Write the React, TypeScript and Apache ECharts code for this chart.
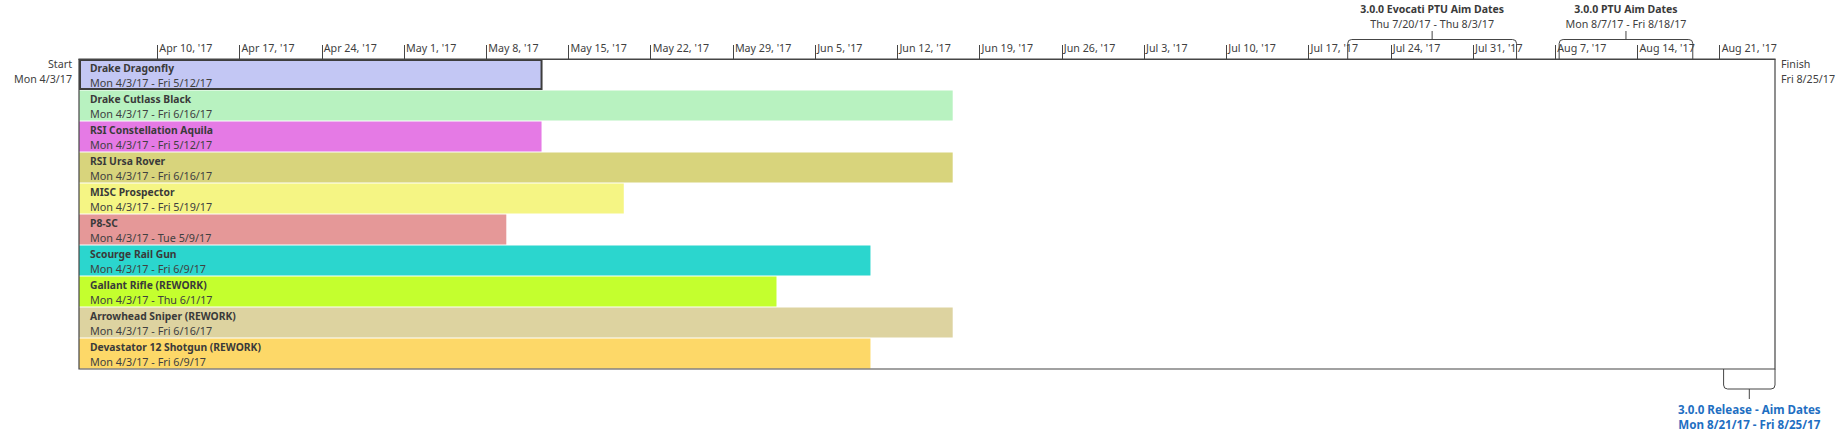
import React, { useEffect, useRef } from "react";
import * as echarts from "echarts";

const tasks = [
  "Drake Dragonfly",
  "Drake Cutlass Black",
  "RSI Constellation Aquila",
  "RSI Ursa Rover",
  "MISC Prospector",
  "P8-SC",
  "Scourge Rail Gun",
  "Gallant Rifle (REWORK)",
  "Arrowhead Sniper (REWORK)",
  "Devastator 12 Shotgun (REWORK)",
];
const taskStarts = [
  "2017-04-03 08:00",
  "2017-04-03 08:00",
  "2017-04-03 08:00",
  "2017-04-03 08:00",
  "2017-04-03 08:00",
  "2017-04-03 08:00",
  "2017-04-03 08:00",
  "2017-04-03 08:00",
  "2017-04-03 08:00",
  "2017-04-03 08:00",
];
const taskFinishes = [
  "2017-05-12 17:00",
  "2017-06-16 17:00",
  "2017-05-12 17:00",
  "2017-06-16 17:00",
  "2017-05-19 17:00",
  "2017-05-09 17:00",
  "2017-06-09 17:00",
  "2017-06-01 17:00",
  "2017-06-16 17:00",
  "2017-06-09 17:00",
];
const taskDateLabels = [
  "Mon 4/3/17 - Fri 5/12/17",
  "Mon 4/3/17 - Fri 6/16/17",
  "Mon 4/3/17 - Fri 5/12/17",
  "Mon 4/3/17 - Fri 6/16/17",
  "Mon 4/3/17 - Fri 5/19/17",
  "Mon 4/3/17 - Tue 5/9/17",
  "Mon 4/3/17 - Fri 6/9/17",
  "Mon 4/3/17 - Thu 6/1/17",
  "Mon 4/3/17 - Fri 6/16/17",
  "Mon 4/3/17 - Fri 6/9/17",
];
const taskColors = [
  "#C3C7F4",
  "#B8F2C0",
  "#E57AE5",
  "#D8D47C",
  "#F5F584",
  "#E59898",
  "#2BD6CE",
  "#C4FF2E",
  "#DDD3A0",
  "#FDD868",
];
const selectedTask = "Drake Dragonfly";

const projectStart = "2017-04-03 08:00";
const projectFinish = "2017-08-25 17:00";
const projectStartLabels = ["Start", "Mon 4/3/17"];
const projectFinishLabels = ["Finish", "Fri 8/25/17"];

const tickDates = [
  "2017-04-10", "2017-04-17", "2017-04-24", "2017-05-01", "2017-05-08",
  "2017-05-15", "2017-05-22", "2017-05-29", "2017-06-05", "2017-06-12",
  "2017-06-19", "2017-06-26", "2017-07-03", "2017-07-10", "2017-07-17",
  "2017-07-24", "2017-07-31", "2017-08-07", "2017-08-14", "2017-08-21",
];
const tickLabels = [
  "Apr 10, '17", "Apr 17, '17", "Apr 24, '17", "May 1, '17", "May 8, '17",
  "May 15, '17", "May 22, '17", "May 29, '17", "Jun 5, '17", "Jun 12, '17",
  "Jun 19, '17", "Jun 26, '17", "Jul 3, '17", "Jul 10, '17", "Jul 17, '17",
  "Jul 24, '17", "Jul 31, '17", "Aug 7, '17", "Aug 14, '17", "Aug 21, '17",
];

const calloutNames = [
  "3.0.0 Evocati PTU Aim Dates",
  "3.0.0 PTU Aim Dates",
  "3.0.0 Release - Aim Dates",
];
const calloutStarts = ["2017-07-20 08:00", "2017-08-07 08:00", "2017-08-21 08:00"];
const calloutFinishes = ["2017-08-03 17:00", "2017-08-18 17:00", "2017-08-25 17:00"];
const calloutDateLabels = [
  "Thu 7/20/17 - Thu 8/3/17",
  "Mon 8/7/17 - Fri 8/18/17",
  "Mon 8/21/17 - Fri 8/25/17",
];
const calloutSides = ["above", "above", "below"];

const toTime = (s: string) => {
  const [d, h] = s.split(" ");
  const [y, m, dd] = d.split("-").map(Number);
  const [hh, mm] = (h || "00:00").split(":").map(Number);
  return new Date(y, m - 1, dd, hh, mm).getTime();
};

const FONT = '"Noto Sans", "Open Sans", sans-serif';
const DARK = "#404040";
const LINE = "#454545";
const BLUE = "#1F6FC2";

export default function App() {
  const ref = useRef<HTMLDivElement>(null);

  useEffect(() => {
    if (!ref.current) return;
    const chart = echarts.init(ref.current, undefined, { renderer: "svg" });
    const tickValues = tickDates.map(toTime);

    const barData = tasks.map((_, i) => [i, toTime(taskStarts[i]), toTime(taskFinishes[i])]);
    const calloutData = calloutNames.map((_, i) => [toTime(calloutStarts[i]), toTime(calloutFinishes[i]), 0]);

    const option: any = {
      animation: false,
      grid: {
        left: 79,
        right: 68,
        top: 59,
        height: 310,
        show: true,
        borderColor: LINE,
        borderWidth: 1.2,
        backgroundColor: "transparent",
        z: 10,
      },
      xAxis: {
        type: "value",
        position: "top",
        min: toTime(projectStart),
        max: toTime(projectFinish),
        z: 12,
        splitLine: { show: false },
        axisLine: { show: true, lineStyle: { color: LINE, width: 1.2 } },
        axisTick: {
          show: true,
          customValues: tickValues,
          length: 14,
          inside: false,
          lineStyle: { color: LINE, width: 1 },
        },
        axisLabel: {
          customValues: tickValues,
          formatter: (v: number) => {
            const k = tickValues.indexOf(v);
            return k >= 0 ? tickLabels[k] : "";
          },
          align: "left",
          verticalAlign: "middle",
          margin: 11,
          padding: [0, 0, 0, 2],
          color: DARK,
          fontFamily: FONT,
          fontSize: 10.7,
          hideOverlap: false,
        },
      },
      yAxis: { type: "category", data: tasks, inverse: true, show: false },
      series: [
        {
          type: "custom",
          name: "tasks",
          clip: false,
          z: 2,
          encode: { y: 0, x: [1, 2] },
          data: barData,
          renderItem: (params: any, api: any) => {
            const i = params.dataIndex;
            const idx = api.value(0);
            const s = api.coord([api.value(1), idx]);
            const e = api.coord([api.value(2), idx]);
            const band = api.size([0, 1])[1];
            const top = s[1] - band / 2;
            const selected = tasks[i] === selectedTask;
            return {
              type: "group",
              children: [
                {
                  type: "rect",
                  shape: selected
                    ? { x: s[0] + 1, y: top + 1, width: e[0] - s[0] - 1, height: band - 2 }
                    : { x: s[0], y: top + 0.5, width: e[0] - s[0], height: band - 1 },
                  style: selected
                    ? { fill: taskColors[i], stroke: "#3d3d3d", lineWidth: 2 }
                    : { fill: taskColors[i] },
                },
                {
                  type: "text",
                  x: s[0] + 11,
                  y: top + 9.3,
                  style: {
                    text: tasks[i],
                    fill: "#3a3a3a",
                    font: `bold 10.3px ${FONT}`,
                    align: "left",
                    verticalAlign: "middle",
                  },
                },
                {
                  type: "text",
                  x: s[0] + 11,
                  y: top + 23.8,
                  style: {
                    text: taskDateLabels[i],
                    fill: DARK,
                    font: `10.8px ${FONT}`,
                    align: "left",
                    verticalAlign: "middle",
                  },
                },
              ],
            };
          },
        },
        {
          type: "custom",
          name: "callouts",
          clip: false,
          z: 15,
          encode: { x: [0, 1], y: 2 },
          data: calloutData,
          renderItem: (params: any, api: any) => {
            const i = params.dataIndex;
            const cs = params.coordSys;
            const x1 = api.coord([api.value(0), 0])[0];
            const x2 = api.coord([api.value(1), 0])[0];
            const mid = (x1 + x2) / 2;
            const r = 4;
            const above = calloutSides[i] === "above";
            let pathData = "";
            const children: any[] = [];
            if (above) {
              const base = cs.y;
              const bar = base - 19.5;
              const tip = bar - 8.5;
              pathData = `M${x1},${base} L${x1},${bar + r} Q${x1},${bar} ${x1 + r},${bar} L${x2 - r},${bar} Q${x2},${bar} ${x2},${bar + r} L${x2},${base} M${mid},${bar} L${mid},${tip}`;
              children.push(
                {
                  type: "text",
                  x: mid,
                  y: base - 50,
                  style: { text: calloutNames[i], fill: "#3a3a3a", font: `bold 10.5px ${FONT}`, align: "center", verticalAlign: "middle" },
                },
                {
                  type: "text",
                  x: mid,
                  y: base - 35.5,
                  style: { text: calloutDateLabels[i], fill: DARK, font: `10.7px ${FONT}`, align: "center", verticalAlign: "middle" },
                }
              );
            } else {
              const base = cs.y + cs.height;
              const bar = base + 20;
              const tip = bar + 10;
              pathData = `M${x1},${base} L${x1},${bar - r} Q${x1},${bar} ${x1 + r},${bar} L${x2 - r},${bar} Q${x2},${bar} ${x2},${bar - r} L${x2},${base} M${mid},${bar} L${mid},${tip}`;
              children.push(
                {
                  type: "text",
                  x: mid,
                  y: base + 40.7,
                  style: { text: calloutNames[i], fill: BLUE, font: `bold 11.6px ${FONT}`, align: "center", verticalAlign: "middle" },
                },
                {
                  type: "text",
                  x: mid,
                  y: base + 55.7,
                  style: { text: calloutDateLabels[i], fill: BLUE, font: `bold 11.6px ${FONT}`, align: "center", verticalAlign: "middle" },
                }
              );
            }
            children.unshift({
              type: "path",
              shape: { pathData },
              style: { fill: "none", stroke: LINE, lineWidth: 1 },
            });
            return { type: "group", children };
          },
        },
        {
          type: "custom",
          name: "project",
          clip: false,
          z: 15,
          encode: { x: [0, 1], y: 2 },
          data: [[toTime(projectStart), toTime(projectFinish), 0]],
          renderItem: (params: any, api: any) => {
            const cs = params.coordSys;
            const xs = api.coord([api.value(0), 0])[0];
            const xf = api.coord([api.value(1), 0])[0];
            const mk = (text: string, x: number, y: number, align: string) => ({
              type: "text",
              x,
              y,
              style: { text, fill: DARK, font: `10.7px ${FONT}`, align, verticalAlign: "middle" },
            });
            return {
              type: "group",
              children: [
                mk(projectStartLabels[0], xs - 7, cs.y + 5, "right"),
                mk(projectStartLabels[1], xs - 7, cs.y + 20.3, "right"),
                mk(projectFinishLabels[0], xf + 6, cs.y + 4.5, "left"),
                mk(projectFinishLabels[1], xf + 6, cs.y + 19.5, "left"),
              ],
            };
          },
        },
      ],
    };

    chart.setOption(option);
    return () => chart.dispose();
  }, []);

  return (
    <div
      ref={ref}
      style={{ position: "absolute", left: 0, top: 0, width: 1843, height: 445, background: "#fff" }}
    />
  );
}
